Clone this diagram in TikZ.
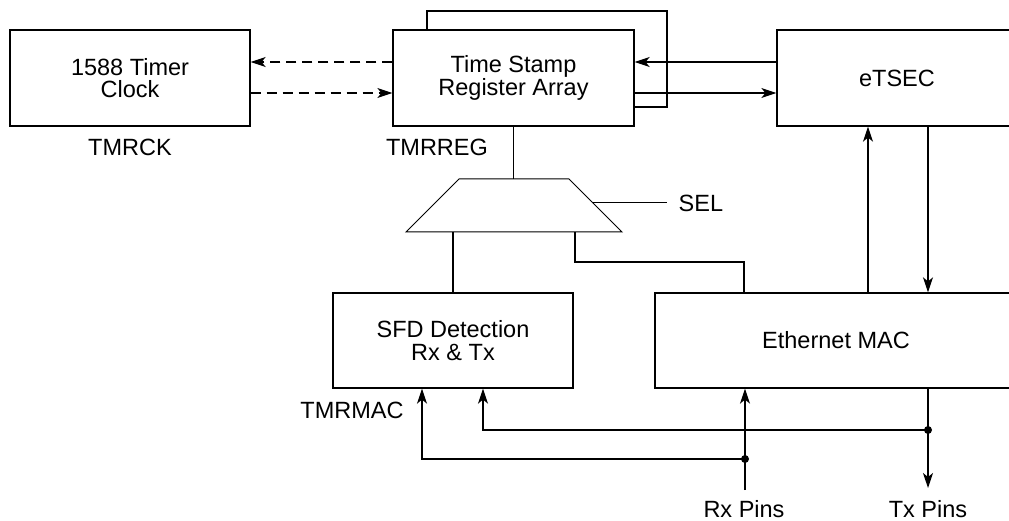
\documentclass[tikz,border=0pt]{standalone}
\usepackage{fontspec}
\setmainfont{Liberation Sans}
\usetikzlibrary{arrows.meta,calc}

\tikzset{
	blk/.style={draw,fill=white,minimum width=240pt,minimum height=96pt,align=center,inner sep=0pt},
	lbl/.style={inner sep=0pt},
	jdot/.style={circle,fill,inner sep=0pt,minimum size=8pt},
}

\begin{document}
\begin{tikzpicture}[x=1pt,y=-1pt,line join=miter,>={Stealth[length=15pt,width=10pt,inset=4pt]},line width=1.3pt,font=\fontsize{23.5}{22.5}\selectfont]
	\useasboundingbox (0,0) rectangle (1009,521);
	% Khối trên
	\draw (427,30) |- (667,11) |- (634,107);
	\node[blk] (clk) at (130,78) {1588 Timer\\Clock};
	\node[blk,minimum width=241pt] (tsr) at (513.5,78) {Time Stamp\\Register Array};
	\node[blk] (etsec) at (897,78) {eTSEC};
	\node[lbl] (tmrck) at (130,147) {TMRCK};
	\node[lbl] (tmrreg) at (437,147) {TMRREG};
	\draw[->,dashed,dash pattern=on 10pt off 6pt] ([yshift=16pt]tsr.west)--([yshift=16pt]clk.east);
	\draw[->,dashed,dash pattern=on 10pt off 6pt] ([yshift=-15pt]clk.east)--([yshift=-15pt]tsr.west);
	\draw[->] ([yshift=16pt]etsec.west)--([yshift=16pt]tsr.east);
	\draw[->] ([yshift=-15pt]tsr.east)--([yshift=-15pt]etsec.west);
	% Bộ chọn
	\coordinate (m1) at (406,232);
	\coordinate (m2) at (459,179);
	\coordinate (m3) at (569,179);
	\coordinate (m4) at (622,232);
	\coordinate (sel) at ($(m3)!0.45!(m4)$);
	\coordinate (mo) at (575,232);
	\draw[line width=1pt] (m1)--(m2)--(m3)--(m4)--cycle;
	\node[lbl,anchor=west] (seltxt) at (678,203) {SEL};
	\draw (sel)--([xshift=-11pt]seltxt.west|-sel);
	\draw (tsr.south)--(tsr.south|-m2);
	% Khối dưới
	\node[blk,minimum height=95pt] (sfd) at (453,340.5) {SFD Detection\\Rx \& Tx};
	\node[blk,minimum width=362pt,minimum height=95pt] (mac) at (836,340.5) {Ethernet MAC};
	\node[lbl] (tmrmac) at (352,410) {TMRMAC};
	\draw (sfd.north|-m1)--(sfd.north);
	\draw (mo)--++(0,30)-|([xshift=-92pt]mac.north);
	\draw[->] ([xshift=32pt]mac.north)--([xshift=32pt]mac.north|-etsec.south);
	\draw[->] ([xshift=92pt]mac.north|-etsec.south)--([xshift=92pt]mac.north);
	% Chân Rx, Tx
	\node[lbl] (rxp) at (744,509) {Rx Pins};
	\node[lbl] (txp) at (928,509) {Tx Pins};
	\node[jdot] (j1) at (745,459) {};
	\node[jdot] (j2) at (928,430) {};
	\draw[->] (745,490)--(j1.center)--(j1|-mac.south);
	\draw[->] (j1.center)-|([xshift=-31pt]sfd.south);
	\draw[->] (j2|-mac.south)--(928,488);
	\draw[->] (j2.center)-|([xshift=30pt]sfd.south);
\end{tikzpicture}
\end{document}
